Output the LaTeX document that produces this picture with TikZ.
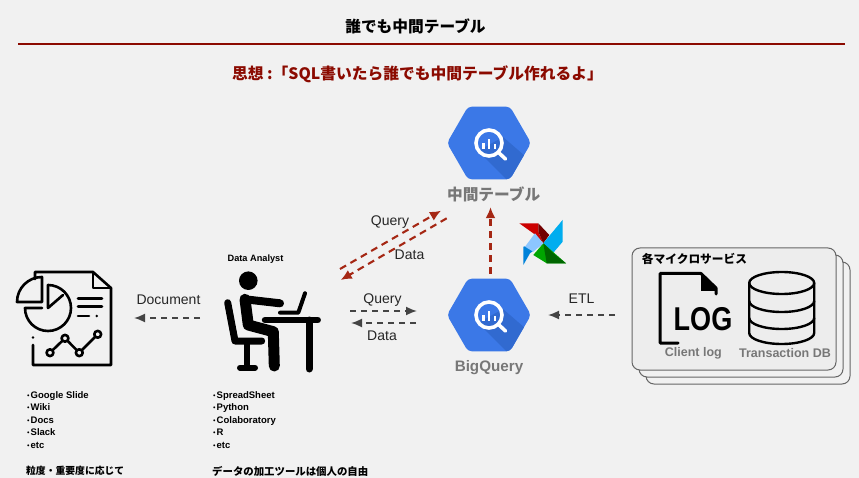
\documentclass[tikz,border=0pt]{standalone}
\usepackage{fontspec}
\setmainfont{Noto Sans CJK JP}
\newfontfamily\latinfont{Liberation Sans}
\newfontfamily\cjkfont{Noto Sans CJK JP}
\usetikzlibrary{arrows.meta,shapes.geometric}
\definecolor{bgcol}{HTML}{F1F1F1}
\definecolor{bqblue}{HTML}{3B78E7}
\definecolor{bqdark}{HTML}{316AD0}
\definecolor{redcol}{HTML}{A52714}
\definecolor{titlered}{HTML}{8B0A00}
\definecolor{graytext}{HTML}{777777}
\definecolor{grayarrow}{HTML}{444444}
\newcommand{\notedot}{\makebox[4.5pt][c]{\cjkfont\bfseries\fontsize{7}{7}\selectfont ・}}
\tikzset{
	bqhex/.style={regular polygon, regular polygon sides=6, minimum size=84pt, inner sep=0pt, outer sep=0pt, fill=bqblue, rounded corners=4pt},
	iconbox/.style={inner sep=0pt, outer sep=0pt, minimum width=#1},
	iconline/.style={line cap=round, line join=round, black},
	grayflow/.style={draw=grayarrow, line width=1.7pt, dash pattern=on 6pt off 5pt, -{Latex[length=11pt,width=9pt]}},
	redflow/.style={draw=redcol, line width=2.1pt, dash pattern=on 7pt off 5pt, -{Latex[length=11pt,width=10pt]}},
	flowlabel/.style={font=\latinfont\fontsize{14}{14}\selectfont, text=black!85},
	iconlabel/.style={font=\bfseries\fontsize{#1}{#1}\selectfont, text=graytext},
	notes/.style={align=left, anchor=north west, inner sep=0pt, font=\latinfont\bfseries\fontsize{9.5}{12.6}\selectfont},
	card/.style={draw=black!60, line width=1pt, fill=#1, rounded corners=8pt}
}
\begin{document}
\begin{tikzpicture}[x=1pt, y=-1pt]
	\useasboundingbox (0,0) rectangle (859,478);
	\fill[bgcol] (0,0) rectangle (859,478);
	% Titles
	\node[font=\bfseries\fontsize{15.7}{16}\selectfont] (title) at (415.5,26) {誰でも中間テーブル};
	\draw[titlered, line width=1.8pt] (18,44) -- (845,44);
	\node[font=\bfseries\fontsize{15.75}{16}\selectfont, text=titlered] (motto) at (417.5,74.5) {思想 :「SQL書いたら誰でも中間テーブル作れるよ」};
	% BigQuery hexagons
	\foreach \hexname/\hexy in {midtable/143,bigquery/315} {
		\node[bqhex] (\hexname) at (489,\hexy) {};
		\begin{scope}
			\clip[rounded corners=4pt] (\hexname.corner 1) -- (\hexname.corner 2) -- (\hexname.corner 3) -- (\hexname.corner 4) -- (\hexname.corner 5) -- (\hexname.corner 6) -- cycle;
			\fill[bqdark] (478,\hexy+8) -- (512,\hexy+42) -- (540,\hexy+42) -- (540,\hexy+26) -- (503,\hexy-6) -- cycle;
		\end{scope}
		\draw[white, line width=3.6pt] (489,\hexy) circle (13);
		\draw[white, line width=3.6pt, line cap=round] (498.5,\hexy+9.5) -- (505.5,\hexy+16);
		\fill[white] (482.2,\hexy) rectangle (484.5,\hexy+6);
		\fill[white] (487.8,\hexy-4) rectangle (490.4,\hexy+6);
		\fill[white] (493.6,\hexy+1) rectangle (495.9,\hexy+6);
	}
	\node[iconlabel=15.7] (midlabel) at (493.7,194) {中間テーブル};
	\node[iconlabel=15.2] (bqlabel) at (489,368) {\latinfont\bfseries BigQuery};
	% Airflow pinwheel
	\fill[red!80!black] (519.3,223.3) -- (538.3,223.3) -- (538.3,231.7) -- (543.3,243.3) -- (533.3,233.3) -- cycle;
	\fill[red!45!black] (538.3,223.3) -- (549.3,235) -- (543.3,243.3) -- (538.3,231.7) -- cycle;
	\fill[cyan!70!white] (562.7,220) -- (551.7,233.3) -- (543.3,243.3) -- (552,246) -- cycle;
	\fill[cyan] (562.7,220) -- (562.7,241.7) -- (553.3,252.7) -- (543.3,243.3) -- cycle;
	\fill[green!65!black] (566,263.3) -- (546.7,263.3) -- (533.3,255) -- (543.3,243.3) -- cycle;
	\fill[green!40!black] (566,263.3) -- (553.3,253.3) -- (543.3,243.3) -- (546.7,263.3) -- cycle;
	\fill[blue!40!cyan!85!black] (523.3,265) -- (523.3,246.7) -- (543.3,243.3) -- (530,253.3) -- cycle;
	\fill[blue!50!cyan!45!white] (535,233.3) -- (543.3,243.3) -- (533.3,251.7) -- (525,246.7) -- cycle;
	% Document icon
	\node[iconbox=96pt, minimum height=94pt] (docicon) at (64,318) {};
	\begin{scope}[iconline, line width=2.6pt]
		\draw (35,279) -- (35,272) -- (93,272) -- (111,288) -- (111,365) -- (33,365) -- (33,345);
		\draw (93,272) -- (93,288) -- (111,288);
		\fill (33,337.5) circle (1.3);
		\draw (42,302) -- (17,302) arc[start angle=180, end angle=90, radius=25pt] -- cycle;
		\draw (48,285) arc[start angle=90, end angle=-180, radius=23pt] -- (42,308);
		\draw (48,285) -- (48,308) -- (63,295);
		\draw (78,298.5) -- (102,298.5);
		\draw (78,306.5) -- (102,306.5);
		\draw (78,316) -- (89,316);
		\fill (96.7,316) circle (1.3);
		\draw (50,352.7) -- (65,338.3) -- (79.3,352.7) -- (97.7,334.3);
		\foreach \px/\py in {50/352.7,65/338.3,79.3/352.7,97.7/334.3} {
			\draw[fill=bgcol] (\px,\py) circle (3.4);
		}
	\end{scope}
	% Analyst icon
	\node[iconbox=96pt, minimum height=110pt] (analyst) at (272,315) {};
	\node[font=\latinfont\bfseries\fontsize{9.2}{9}\selectfont] (analystlabel) at (255.5,259) {Data Analyst};
	\fill (248.3,280.7) circle (9.3);
	\draw[iconline, line width=11pt] (245,299.3) -- (248.3,325) -- (273.3,331.7) -- (274.3,366);
	\draw[iconline, line width=8pt] (245,299.3) -- (280,303.3);
	\draw[iconline, line width=4pt] (280,312.7) -- (298.3,312.7) -- (305,293.3);
	\draw[iconline, line width=6.5pt] (265,320) -- (317.7,320);
	\draw[iconline, line width=7pt] (309,320) -- (309,369);
	\draw[iconline, line width=7pt] (227.7,302.7) -- (235,341) -- (261.7,341);
	\draw[iconline, line width=6pt] (247.3,341) -- (247.3,367.7);
	\draw[iconline, line width=6pt] (240,367.7) -- (255,367.7);
	% Services cards
	\draw[card=bgcol] (646,262) rectangle (850,384);
	\draw[card=bgcol] (639,255) rectangle (843,377);
	\node[card=black!7, minimum width=204pt, minimum height=122pt, inner sep=0pt, outer sep=0pt] (services) at (734,309) {};
	\node[font=\bfseries\fontsize{11.7}{12}\selectfont] (serviceslabel) at (694.5,259) {各マイクロサービス};
	\draw[iconline, line width=3pt] (678,343) -- (660,343) -- (660,273.5) -- (701,273.5) -- (716,288) -- (716,294);
	\fill (701,273.5) -- (716,288) -- (716,291) -- (701,291) -- cycle;
	\node[font=\latinfont\bfseries\fontsize{33}{33}\selectfont, inner sep=0pt, xscale=.82] (logtext) at (703,319) {LOG};
	\draw[iconline, line width=2.4pt, fill=black!7] (749.2,283) -- (749.2,333) arc[start angle=180, end angle=360, x radius=32.5pt, y radius=11pt] -- (814.2,283);
	\draw[iconline, line width=2.4pt] (781.7,283) ellipse (32.5 and 11);
	\draw[iconline, line width=2.4pt] (749.2,301) arc[start angle=180, end angle=360, x radius=32.5pt, y radius=11pt];
	\draw[iconline, line width=2.4pt] (749.2,318) arc[start angle=180, end angle=360, x radius=32.5pt, y radius=11pt];
	\node[iconlabel=12.5] (clientlabel) at (693.3,353.5) {\latinfont\bfseries Client log};
	\node[iconlabel=12.5] (dblabel) at (785,353.5) {\latinfont\bfseries Transaction DB};
	% Connectors
	\coordinate (redqueryfrom) at (340,269);
	\coordinate (redqueryto) at (441,210.7);
	\coordinate (reddatafrom) at (446.7,218.3);
	\coordinate (reddatato) at (340.7,280);
	\draw[redflow] (redqueryfrom) -- (redqueryto);
	\draw[redflow] (reddatafrom) -- (reddatato);
	\draw[redflow, shorten <=5pt, shorten >=2pt] ([xshift=1.5pt]bigquery.north) -- ([xshift=1.5pt]bigquery.north |- midlabel.south);
	\draw[grayflow, shorten <=30pt, shorten >=30pt] ([yshift=4pt]analyst.east) -- ([yshift=4pt]bigquery.west);
	\draw[grayflow, shorten <=31pt, shorten >=31pt] ([yshift=-8pt]bigquery.west) -- ([yshift=-8pt]analyst.east);
	\draw[grayflow, shorten <=24pt, shorten >=22pt] ([yshift=-3pt]analyst.west) -- (docicon.east);
	\draw[grayflow, shorten <=17pt, shorten >=17pt] (services.west |- bigquery.east) -- (bigquery.east);
	% Connector labels
	\node[flowlabel] (doclabel) at (168.5,300) {Document};
	\node[flowlabel] (redquery) at (390,222) {Query};
	\node[flowlabel] (reddata) at (409.5,255) {Data};
	\node[flowlabel] (query) at (382.5,300) {Query};
	\node[flowlabel] (data) at (382,336) {Data};
	\node[flowlabel] (etl) at (581.5,299) {ETL};
	% Notes
	\node[notes] (docnotes) at (26,391) {\notedot Google Slide\\\notedot Wiki\\\notedot Docs\\\notedot Slack\\\notedot etc};
	\node[notes] (toolnotes) at (212,391) {\notedot SpreadSheet\\\notedot Python\\\notedot Colaboratory\\\notedot R\\\notedot etc};
	\node[font=\bfseries\fontsize{9.8}{10}\selectfont, anchor=west, inner sep=0pt] (docnote) at (26,471) {粒度・重要度に応じて};
	\node[font=\bfseries\fontsize{10.4}{10}\selectfont, anchor=west, inner sep=0pt] (toolnote) at (212,471) {データの加工ツールは個人の自由};
\end{tikzpicture}
\end{document}
